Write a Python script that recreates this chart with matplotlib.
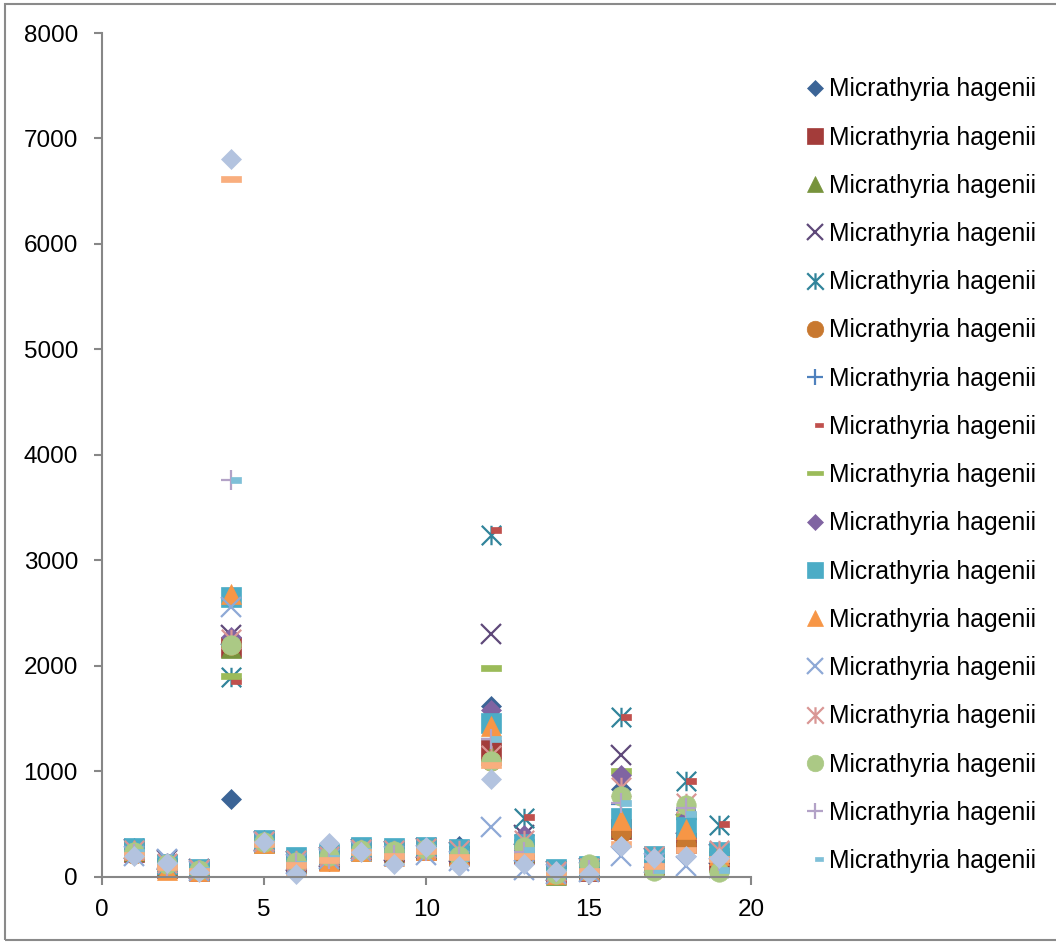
import matplotlib
matplotlib.use('Agg')
import matplotlib.pyplot as plt
import numpy as np
from matplotlib.path import Path
from matplotlib.patches import Rectangle

# x positions shared by all series
x_vals = list(range(1, 20))

label = 'Micrathyria hagenii'

# one list per series
s01 = [270, 130, 60, 740, 350, 180, 150, 270, 260, 270, 290, 1620, 300, 40, 60, 830, 150, 330, 200]
s02 = [230, 80, 50, 2180, 330, 120, 160, 250, 230, 250, 200, 1200, 220, 30, 50, 450, 120, 320, 150]
s03 = [240, 90, 60, 2170, 320, 130, 170, 240, 220, 260, 210, 1150, 230, 20, 60, 470, 110, 330, 140]
s04 = [260, 160, 70, 2290, 340, 150, 190, 260, 240, 270, 230, 2300, 400, 50, 80, 1150, 180, 500, 220]
s05 = [250, 120, 60, 1890, 330, 160, 200, 260, 250, 270, 240, 3240, 560, 60, 70, 1510, 190, 910, 490]
s06 = [220, 70, 50, 2200, 330, 110, 160, 250, 220, 250, 200, 1100, 200, 30, 60, 410, 130, 310, 160]
s07 = [230, 110, 60, 2200, 330, 130, 180, 250, 230, 260, 210, 1310, 250, 40, 70, 690, 150, 630, 200]
s08 = [240, 100, 60, 1860, 330, 140, 190, 250, 240, 260, 220, 3290, 570, 50, 70, 1510, 170, 910, 500]
s09 = [250, 110, 70, 1900, 340, 150, 200, 260, 250, 270, 230, 1980, 330, 40, 80, 1000, 190, 580, 240]
s10 = [260, 90, 60, 2270, 340, 170, 150, 270, 240, 270, 240, 1580, 400, 50, 60, 960, 190, 550, 230]
s11 = [270, 120, 70, 2650, 350, 190, 220, 280, 270, 280, 260, 1460, 310, 70, 100, 560, 200, 470, 230]
s12 = [250, 60, 50, 2680, 320, 110, 150, 240, 200, 250, 210, 1430, 260, 30, 60, 540, 150, 450, 210]
s13 = [200, 170, 50, 2560, 330, 120, 170, 240, 200, 210, 150, 470, 60, 30, 40, 200, 130, 100, 80]
s14 = [250, 130, 70, 2250, 340, 160, 200, 260, 250, 270, 250, 1150, 350, 50, 80, 850, 200, 700, 250]
s15 = [230, 125, 60, 2200, 330, 140, 200, 250, 240, 260, 200, 1100, 280, 30, 120, 770, 55, 680, 40]
s16 = [220, 100, 50, 3760, 320, 130, 170, 230, 210, 240, 190, 1310, 230, 40, 60, 700, 120, 650, 150]
s17 = [230, 110, 60, 3760, 320, 120, 180, 240, 200, 250, 180, 1310, 250, 40, 50, 700, 60, 590, 60]
s18 = [210, 90, 50, 6620, 310, 110, 160, 230, 200, 240, 190, 1060, 200, 30, 50, 310, 100, 250, 170]
s19 = [200, 130, 40, 6810, 330, 30, 320, 230, 120, 280, 100, 930, 120, 50, 30, 290, 180, 200, 180]

series = [s01, s02, s03, s04, s05, s06, s07, s08, s09, s10,
          s11, s12, s13, s14, s15, s16, s17, s18, s19]

colors = ['#3B6496', '#A33C3A', '#77933C', '#5F497A', '#31849B', '#C8782F',
          '#4F81BD', '#C0504D', '#9BBB59', '#8064A2', '#4BACC6', '#F79646',
          '#8EA9D6', '#D99694', '#ABC985', '#B3A2C7', '#7FC0D8', '#F9AE7E',
          '#B3C3DF']

# excel-like marker shapes
star = Path([(-1, -1), (1, 1), (-1, 1), (1, -1), (0, -1), (0, 1)],
            [Path.MOVETO, Path.LINETO, Path.MOVETO, Path.LINETO, Path.MOVETO, Path.LINETO])
short_dash = Path([(0, -0.3), (1, -0.3), (1, 0.3), (0, 0.3), (0, -0.3)],
                  [Path.MOVETO, Path.LINETO, Path.LINETO, Path.LINETO, Path.CLOSEPOLY])
long_dash = Path([(-1, -0.3), (1, -0.3), (1, 0.3), (-1, 0.3), (-1, -0.3)],
                 [Path.MOVETO, Path.LINETO, Path.LINETO, Path.LINETO, Path.CLOSEPOLY])

cycle = [('D', 10, True), ('s', 14, True), ('^', 14, True), ('x', 14, False),
         (star, 14, False), ('o', 14, True), ('+', 14, False),
         (short_dash, 14, True), (long_dash, 14, True)]

plt.rcParams['font.family'] = ['Liberation Sans', 'DejaVu Sans']

fig = plt.figure(figsize=(10.56, 9.43), dpi=100)
ax = fig.add_axes([0.0962, 0.0703, 0.6150, 0.8947])

handles = []
for i, vals in enumerate(series):
    mk, ms, filled = cycle[i % len(cycle)]
    c = colors[i]
    if filled:
        h, = ax.plot(x_vals, vals, linestyle='none', marker=mk, markersize=ms,
                     markerfacecolor=c, markeredgecolor=c, markeredgewidth=0.5,
                     label=label)
    else:
        h, = ax.plot(x_vals, vals, linestyle='none', marker=mk, markersize=ms,
                     markerfacecolor='none', markeredgecolor=c, markeredgewidth=1.6,
                     label=label)
    h.set_clip_on(False)
    handles.append(h)

ax.set_xlim(0, 20)
ax.set_ylim(0, 8000)
ax.set_xticks([0, 5, 10, 15, 20])
ax.set_yticks(np.arange(0, 8001, 1000))

for side in ['top', 'right']:
    ax.spines[side].set_visible(False)
for side in ['left', 'bottom']:
    ax.spines[side].set_color('#878787')
    ax.spines[side].set_linewidth(1.5)
ax.tick_params(axis='both', direction='out', length=6, width=1.5, color='#878787',
               labelsize=17.5, labelcolor='black')
ax.tick_params(axis='y', pad=11)
ax.tick_params(axis='x', pad=10)

# legend shows only the first 17 entries (the rest are cut off)
fig.legend(handles=handles[:17], labels=[label] * 17, loc='upper left',
           bbox_to_anchor=(0.7623, 0.918), frameon=False, fontsize=17.8,
           handlelength=0.8, handletextpad=0.17, labelspacing=0.98,
           markerscale=0.85, borderaxespad=0, borderpad=0)

fig.patches.append(Rectangle((5 / 1056, 3 / 943), 1.1, 936 / 943, transform=fig.transFigure,
                             fill=False, edgecolor='#8A8A8A', linewidth=1.5))

plt.savefig('out.png', dpi=100)
plt.close()
